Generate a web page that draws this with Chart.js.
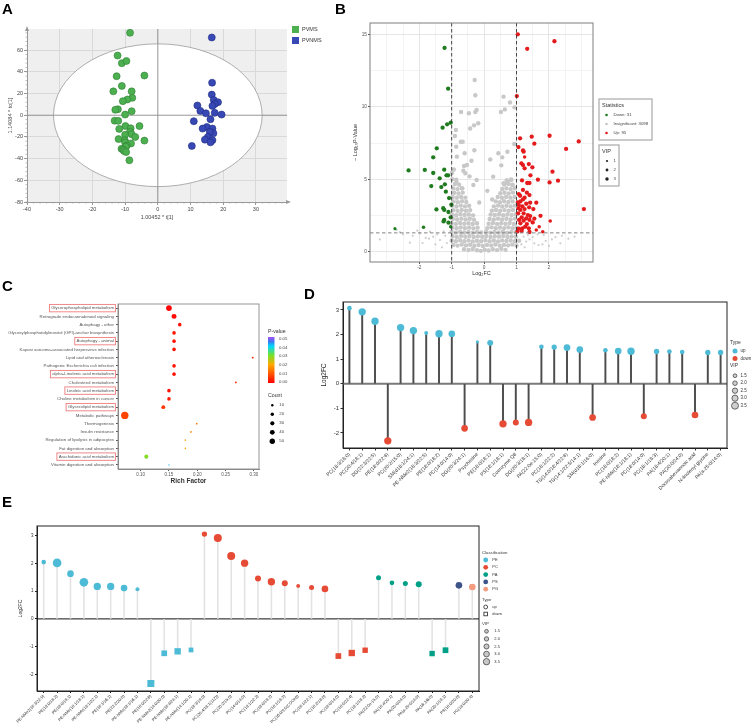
<!DOCTYPE html>
<html lang="en">
<head>
<meta charset="UTF-8">
<title>Lipidomics figure A-E</title>
<script src="https://cdn.jsdelivr.net/npm/chart.js"></script>
<style>
  body { margin: 0; background: #fff; }
  #fig { position: relative; width: 753px; height: 727px; overflow: hidden; background: #fff; }
  #fig canvas { position: absolute; }
  .tag { position: absolute; font: bold 15px 'Liberation Sans', Arial, sans-serif; color: #000; line-height: 1; }
</style>
</head>
<body>
<div id="fig">
  <canvas id="cA" width="330" height="230" style="left:0;top:0"></canvas>
  <canvas id="cB" width="423" height="290" style="left:330px;top:0"></canvas>
  <canvas id="cC" width="300" height="220" style="left:0;top:270px"></canvas>
  <canvas id="cD" width="453" height="222" style="left:300px;top:288px"></canvas>
  <canvas id="cE" width="753" height="237" style="left:0;top:490px"></canvas>
  <div class="tag" style="left:2px;top:1px">A</div>
  <div class="tag" style="left:335px;top:1px">B</div>
  <div class="tag" style="left:2px;top:278px">C</div>
  <div class="tag" style="left:304px;top:286px">D</div>
  <div class="tag" style="left:2px;top:494px">E</div>
</div>
<script>
// ---------- A: OPLS-DA score plot ----------
const aGroups = ['PVMS', 'PVNMS'];
const pvmsPts = [[-8.5,76],[-12.3,55],[-11,48],[-9.6,50],[-12.6,36],[-4.1,36.6],[-11,27],[-13.6,22],[-8,22],[-7.8,16],
  [-9.3,14.5],[-10.7,13],[-12.2,5.5],[-13,5],[-8,3.7],[-10,0.6],[-13.2,-5],[-12.1,-5.2],[-5.6,-10],[-9.9,-10],
  [-11.8,-12.6],[-8.3,-12],[-8.5,-15.4],[-10,-18],[-8,-17.5],[-6.9,-20],[-12,-22],[-10.1,-23],[-4.1,-23.4],[-10,-25],
  [-8.2,-26],[-9.5,-28],[-9.8,-29],[-11.1,-31],[-10.6,-31.7],[-10.3,-33],[-9.7,-34],[-8.7,-41.5]];
const pvnmsPts = [[16.5,71.7],[16.6,30],[16.5,19],[17.1,14],[18.4,12],[17.4,10.3],[16.7,8.6],[12.1,9],[13,4],[14.7,1.8],
  [17.4,2.2],[19.5,0.6],[16.1,-3.7],[11,-5.5],[15,-10.8],[13.7,-12.3],[16.7,-12.3],[17,-16.6],[15.9,-15.4],[15.3,-20],
  [14.4,-22.5],[16.7,-23],[16.1,-25],[10.4,-28.3]];
const aXTicks = [-40,-30,-20,-10,0,10,20,30];
const aYTicks = [-80,-60,-40,-20,0,20,40,60];
const aEllipse = [31.9, 65.8];   // Hotelling T2 radii

// ---------- B: volcano ----------
const bCounts = [31, 3098, 95];       // down, insignificant, up
const bFcCut = [-1, 1];
const bPCut = 1.3;
const bXTicks = [-3,-2.5,-2,-1.5,-1,-0.5,0,0.5,1,1.5,2,2.5,3];
const bXLabels = [-2,-1,0,1,2];
const bYTicks = [0,2.5,5,7.5,10,12.5,15];
const bYLabels = [0,5,10,15];
const downPts = [[-1.22,14.06,3],[-1.11,11.25,3],[-1.03,8.9,3],[-1.14,8.79,3],[-1.28,8.56,3],[-1.46,7.13,3],[-1.57,6.51,3],
  [-2.33,5.61,3],[-1.83,5.64,3],[-1.57,5.43,3],[-1.23,5.66,3],[-1.16,5.27,3],[-1.11,5.27,3],[-1.37,5.06,3],[-1.21,4.65,3],
  [-1.63,4.53,3],[-1.32,4.46,3],[-1.18,4.14,3],[-1.08,3.70,3],[-1.01,3.24,3],[-1.47,2.92,3],[-1.23,2.88,3],[-1.10,2.74,3],
  [-1.03,2.37,3],[-1.23,2.19,3],[-1.25,2.09,3],[-1.10,2.0,3],[-1.03,1.73,2],[-2.75,1.59,1.5],[-1.87,1.68,2],[-1.26,3.0,3]];
const upPts = [[1.04,15.0,3],[2.17,14.52,3],[1.33,14.0,3],[1.01,10.74,3],[2.02,8.0,3],[1.47,7.94,3],[1.11,7.82,3],
  [2.92,7.61,3],[1.55,7.45,3],[1.06,7.22,3],[2.53,7.09,3],[1.20,6.99,3],[1.22,6.9,3],[1.25,6.53,2],[1.15,6.1,3],
  [1.38,6.05,3],[1.20,5.98,3],[1.25,5.75,3],[1.49,5.82,3],[2.11,5.52,3],[1.43,5.27,3],[1.17,4.92,3],[1.66,4.97,3],
  [2.28,4.9,3],[2.02,4.78,3],[1.33,4.74,3],[1.40,4.74,3],[1.20,4.26,3],[1.07,3.98,3],[1.11,3.86,3],[1.32,4.07,3],
  [1.40,3.91,3],[1.25,3.73,3],[1.20,3.61,3],[1.12,3.47,3],[1.04,3.4,3],[1.42,3.38,3],[1.61,3.38,3],[3.08,2.94,3],
  [1.30,3.31,3],[1.07,3.22,3],[1.18,3.13,3],[1.06,2.99,3],[1.12,2.88,3],[1.25,2.94,3],[1.39,3.06,3],[1.52,2.94,3],
  [1.22,2.65,3],[1.05,2.65,3],[1.35,2.53,3],[1.42,2.46,3],[1.74,2.48,3],[1.16,2.37,3],[1.30,2.30,3],[1.55,2.28,3],
  [1.08,2.19,3],[1.22,2.14,3],[1.40,2.19,3],[2.04,2.12,2],[1.50,2.02,3],[1.12,1.96,3],[1.32,1.91,3],[1.27,1.73,3],
  [1.18,1.61,3],[1.38,1.61,3],[1.07,1.59,3],[1.70,1.73,2],[1.61,1.5,2],[1.40,1.36,3],[1.81,1.38,2],[1.16,1.43,3],[1.03,1.40,3]];
// insignificant features
const grayPts = [
  [-0.29,11.85],[-0.27,10.8],[0.6,10.7],[0.8,10.3],[0.64,9.82],[0.94,9.96],[0.52,9.64],[-0.23,9.78],[-0.27,9.64],[-0.71,9.64],
  [-0.47,9.55],[-0.18,8.86],[-0.31,8.72],[-0.87,8.4],[-0.43,8.5],[-0.9,7.98],[-0.72,7.59],[-0.66,7.59],[-0.86,7.25],[0.93,7.43],
  [-0.30,7.0],[0.72,6.9],[0.44,6.79],[0.56,6.51],[-0.6,6.79],[-0.84,6.56],[-0.39,6.28],[0.19,6.37],[-0.53,5.98],[-0.62,5.91],
  [0.53,5.96],[-0.93,5.68],[-0.64,5.59],[-0.99,5.45],[0.28,5.18],[-0.58,5.41],[-0.98,5.01],[-0.23,4.95],[-0.85,4.81],[0.72,4.78],
  [0.83,4.95],[0.6,4.72],[-0.67,4.37],[-0.33,4.6],[0.87,4.6],[-0.45,5.2],[0.1,4.2],[0.25,3.6],[-0.15,3.4],
  [-0.62,0.17],[-0.48,0.12],[-0.35,0.19],[-0.22,0.1],[-0.1,0.06],[0.02,0.14],[0.14,0.08],[0.27,0.18],[0.4,0.11],[0.53,0.2],[0.66,0.13],
  [-0.95,0.47],[-0.82,0.42],[-0.69,0.5],[-0.56,0.44],[-0.43,0.48],[-0.3,0.41],[-0.17,0.46],[-0.04,0.4],[0.09,0.47],[0.22,0.43],
  [0.35,0.5],[0.48,0.42],[0.61,0.47],[0.74,0.44],[0.87,0.49],[1.0,0.43],
  [-1.0,0.77],[-0.87,0.72],[-0.74,0.79],[-0.61,0.73],[-0.48,0.78],[-0.35,0.71],[-0.22,0.76],[-0.09,0.72],[0.04,0.79],[0.17,0.73],
  [0.3,0.77],[0.43,0.71],[0.56,0.78],[0.69,0.74],[0.82,0.77],[0.95,0.72],[1.08,0.76],
  [-0.97,1.07],[-0.84,1.02],[-0.71,1.09],[-0.58,1.03],[-0.45,1.08],[-0.32,1.01],[-0.19,1.06],[-0.06,1.03],[0.07,1.08],[0.2,1.02],
  [0.33,1.07],[0.46,1.04],[0.59,1.09],[0.72,1.02],[0.85,1.06],[0.98,1.03],
  [-1.0,1.37],[-0.87,1.32],[-0.74,1.38],[-0.61,1.33],[-0.48,1.37],[-0.35,1.31],[-0.22,1.36],[-0.09,1.33],[0.06,1.38],[0.19,1.32],
  [0.32,1.36],[0.45,1.33],[0.58,1.38],[0.71,1.31],[0.84,1.37],[0.97,1.34],
  [-0.98,1.67],[-0.85,1.62],[-0.72,1.68],[-0.59,1.63],[-0.46,1.67],[-0.33,1.61],[-0.2,1.66],[0.1,1.63],[0.23,1.68],[0.36,1.62],
  [0.49,1.67],[0.62,1.63],[0.75,1.68],[0.88,1.62],[1.0,1.66],
  [-1.0,1.97],[-0.87,1.92],[-0.74,1.98],[-0.61,1.93],[-0.48,1.97],[-0.35,1.91],[-0.22,1.96],[0.14,1.93],[0.27,1.98],[0.4,1.92],
  [0.53,1.97],[0.66,1.93],[0.79,1.98],[0.92,1.92],
  [-0.96,2.27],[-0.83,2.22],[-0.7,2.28],[-0.57,2.23],[-0.44,2.27],[-0.31,2.21],[0.17,2.26],[0.3,2.23],[0.43,2.28],[0.56,2.22],
  [0.69,2.27],[0.82,2.23],[0.95,2.28],
  [-0.99,2.57],[-0.86,2.52],[-0.73,2.58],[-0.6,2.53],[-0.47,2.57],[-0.34,2.51],[0.2,2.56],[0.33,2.53],[0.46,2.58],[0.59,2.52],
  [0.72,2.57],[0.85,2.53],[0.98,2.58],
  [-0.95,2.87],[-0.82,2.82],[-0.69,2.88],[-0.56,2.83],[-0.43,2.87],[0.24,2.83],[0.37,2.88],[0.5,2.82],[0.63,2.87],[0.76,2.83],[0.89,2.88],
  [-0.98,3.17],[-0.85,3.12],[-0.72,3.18],[-0.59,3.13],[-0.46,3.17],[0.3,3.13],[0.43,3.18],[0.56,3.12],[0.69,3.17],[0.82,3.13],[0.95,3.18],
  [-0.94,3.47],[-0.81,3.42],[-0.68,3.48],[-0.55,3.43],[0.36,3.47],[0.49,3.42],[0.62,3.48],[0.75,3.43],[0.88,3.47],
  [-0.97,3.77],[-0.84,3.72],[-0.71,3.78],[-0.58,3.73],[0.42,3.77],[0.55,3.72],[0.68,3.78],[0.81,3.73],[0.94,3.77],
  [-0.92,4.07],[-0.79,4.02],[-0.66,4.08],[0.5,4.03],[0.63,4.07],[0.76,4.02],[0.89,4.08],
  [-0.95,4.37],[-0.82,4.32],[-0.69,4.38],[0.56,4.33],[0.69,4.37],[0.82,4.32],[0.95,4.38],
  [-0.9,4.67],[-0.77,4.62],[0.62,4.63],[0.75,4.68],[0.88,4.62],
  [-0.86,4.97],[0.7,4.93],[0.84,4.98]];
const grayFaint = [[-3.22,0.85],[-2.29,0.62],[-2.7,1.5],[-2.06,1.45],[-1.67,1.38],[-1.57,1.04],[-1.36,0.8],[-1.98,1.27],
  [-2.5,1.2],[-1.8,0.95],[-1.45,1.2],[-1.2,1.1],[-1.15,0.6],[-2.6,1.35],[-2.2,1.1],[-1.9,0.6],[-1.7,0.9],[-1.5,0.5],
  [-1.3,0.3],[-1.25,1.4],[2.79,1.04],[2.35,0.58],[2.09,0.85],[1.84,1.15],[1.55,0.58],[1.68,0.46],[1.40,0.85],[1.22,1.04],
  [1.42,1.27],[1.3,0.7],[1.15,0.5],[1.9,0.75],[2.2,1.0],[1.25,0.3],[1.5,1.0],[1.65,1.2],[1.8,0.5],[2.0,0.4],[2.4,1.1],
  [2.6,0.9],[1.35,1.15]];

// ---------- C: KEGG enrichment ----------
const cPathways = ['Glycerophospholipid metabolism','Retrograde endocannabinoid signaling','Autophagy - other',
  'Glycosylphosphatidylinositol (GPI)-anchor biosynthesis','Autophagy - animal','Kaposi sarcoma-associated herpesvirus infection',
  'Lipid and atherosclerosis','Pathogenic Escherichia coli infection','alpha-Linolenic acid metabolism','Cholesterol metabolism',
  'Linoleic acid metabolism','Choline metabolism in cancer','Glycerolipid metabolism','Metabolic pathways','Thermogenesis',
  'Insulin resistance','Regulation of lipolysis in adipocytes','Fat digestion and absorption','Arachidonic acid metabolism',
  'Vitamin digestion and absorption'];
const cRich = [0.15,0.159,0.169,0.159,0.159,0.159,0.298,0.159,0.159,0.268,0.15,0.15,0.14,0.072,0.199,0.189,0.179,0.179,0.11,0.15];
const cPval = [0.0005,0.001,0.002,0.002,0.002,0.002,0.004,0.002,0.002,0.005,0.002,0.003,0.006,0.008,0.014,0.016,0.018,0.019,0.029,0.042];
const cCount = [54,43,22,22,22,22,6,22,22,6,22,22,25,95,5,5,4,4,28,3];
const cBoxed = [0,4,8,10,12,18];
const cXTicks = [0.10,0.15,0.20,0.25,0.30];
const cPLegend = [0.05,0.04,0.03,0.02,0.01,0.00];
const cCountLegend = [10,20,30,40,50];

// ---------- D: top differential metabolites ----------
const dNames = ['PC(18:3/18:0)','PC(20:4/18:1)','DG(22:3/22:5)','PE(18:0/22:6)','PC(20:2/15:0)','SM(d18:1/24:1)',
  'PE-NMe2(18:3/22:5)','PE(18:0/18:2)','PC(14:0/14:0)','DG(20:3/24:1)','Psychosine','PE(18:0/18:1)','PS(18:1/18:1)',
  'Coenzyme Q8','DG(20:3/18:1)','PA(22:0e-15:0)','PC(18:1/22:2)','TG(14:0/18:4/22:6)','TG(14:1/22:5/14:1)','SM(d18:1/16:0)',
  'Inosine','PC(18:0/18:2)','PE-NMe(18:1/18:1)','PC(18:0/14:0)','PC(18:1/18:3)','PA(18:4/20:1)','PA(20:0/24:0)',
  'Docosahexaenoic acid','N-linoleoyl glycine','PA(a-25:0/14:0)'];
const dLog2FC = [3.07,2.92,2.54,-2.32,2.28,2.16,2.06,2.03,2.03,-1.81,1.7,1.66,-1.63,-1.57,-1.57,1.5,1.49,1.47,1.39,-1.37,
  1.36,1.33,1.32,-1.32,1.31,1.31,1.29,-1.27,1.27,1.27];
const dVIP = [1.9,3.5,3.5,3.5,3.5,3.5,1.5,3.5,3.1,3.1,1.0,2.7,3.5,2.7,3.5,1.9,2.3,3.1,3.1,3.1,1.9,3.1,3.5,2.7,2.3,1.9,1.9,3.1,2.3,2.3];
const dYTicks = [-2,-1,0,1,2,3];
const vipLegend = [1.5,2.0,2.5,3.0,3.5];

// ---------- E: lipid classes ----------
const eNames = ['PE-NMe2(18:3/22:5)','PE(18:0/18:2)','PE(18:0/18:1)','PE-NMe(18:1/18:1)','PE-NMe(18:1/22:1)','PE(18:1/16:1)',
  'PE(22:2/20:0)','PE-NMe(18:1/16:1)','PE(18:0/22:6)','PE-NMe2(14:0/20:0)','PE-NMe(18:4/24:1)','PE-NMe(14:1/20:1)',
  'PC(18:3/18:0)','PC(20:4/18:1(11Z))','PC(20:2/15:0)','PC(14:0/14:0)','PC(18:1/22:2)','PC(18:0/18:2)','PC(18:1/18:3)',
  'PC(16:0/9:0(COOH))','PC(18:1/22:1)','PC(18:2/18:0)','PC(18:0/14:0)','PC(18:0/22:4)','PC(18:1/18:2)',
  'PA(22:0e-15:0)','PA(18:4/20:1)','PA(20:0/24:0)','PA(a-25:0/14:0)','PA(16:3/6:0)','PA(20:1/18:1)','PS(18:0/20:0)','PG(18:0/20:4)'];
const eLog2FC = [2.05,2.02,1.63,1.32,1.17,1.17,1.11,1.07,-2.33,-1.24,-1.17,-1.12,3.06,2.92,2.27,2.01,1.46,1.34,1.29,1.19,
  1.13,1.08,-1.34,-1.23,-1.13,1.48,1.30,1.28,1.25,-1.25,-1.13,1.21,1.15];
const eClass = ['PE','PE','PE','PE','PE','PE','PE','PE','PE','PE','PE','PE','PC','PC','PC','PC','PC','PC','PC','PC','PC',
  'PC','PC','PC','PC','PA','PA','PA','PA','PA','PA','PS','PG'];
const eVIP = [1.5,3.9,2.7,3.9,3.1,3.1,2.7,1.1,3.1,2.3,2.7,1.7,1.9,3.5,3.5,3.1,2.3,3.1,2.3,1.0,1.7,2.7,2.3,2.7,2.1,1.7,1.5,
  1.7,2.3,2.1,2.3,2.7,2.7];
const eClasses = ['PE','PC','PA','PS','PG'];
const eYTicks = [-2,-1,0,1,2,3];

// ---------- shared style ----------
const FF = "'Liberation Sans', Arial, sans-serif";
Chart.defaults.font.family = FF;
Chart.defaults.animation = false;
Chart.defaults.responsive = false;
Chart.defaults.plugins.legend.display = false;
Chart.defaults.plugins.tooltip.enabled = false;
const classColor = { PE: '#4DBBD5', PC: '#E64B35', PA: '#00A087', PS: '#3C5488', PG: '#F39B7F' };
const UP = '#4DBBD5', DOWN = '#E64B35';
const fixW = w => s => { s.width = w; };
const fixH = h => s => { s.height = h; };
const setTicks = arr => s => { s.ticks = arr.map(v => ({ value: v })); };
function txt(ctx, str, x, y, size, color, align, weight) {
  ctx.font = (weight || '') + ' ' + size + 'px ' + FF;
  ctx.fillStyle = color || '#333';
  ctx.textAlign = align || 'left';
  ctx.textBaseline = 'middle';
  ctx.fillText(str, x, y);
}

// ================= A =================
const aDeco = {
  id: 'aDeco',
  beforeDraw(c) {
    const { ctx, chartArea: a } = c;
    ctx.save(); ctx.fillStyle = '#efefef';
    ctx.fillRect(a.left, a.top, a.right - a.left, a.bottom - a.top); ctx.restore();
  },
  beforeDatasetsDraw(c) {
    const { ctx, chartArea: a, scales: { x, y } } = c;
    const cx = x.getPixelForValue(0), cy = y.getPixelForValue(0);
    const rx = x.getPixelForValue(aEllipse[0]) - cx, ry = cy - y.getPixelForValue(aEllipse[1]);
    ctx.save();
    ctx.beginPath(); ctx.ellipse(cx, cy, rx, ry, 0, 0, Math.PI * 2);
    ctx.fillStyle = '#fff'; ctx.fill();
    ctx.strokeStyle = '#9a9a9a'; ctx.lineWidth = 0.8; ctx.stroke();
    ctx.strokeStyle = '#8c8c8c'; ctx.lineWidth = 0.9;
    ctx.beginPath(); ctx.moveTo(a.left, cy); ctx.lineTo(a.right, cy);
    ctx.moveTo(cx, a.top); ctx.lineTo(cx, a.bottom); ctx.stroke();
    // minor ticks on both axes
    ctx.strokeStyle = '#999'; ctx.lineWidth = 0.6; ctx.beginPath();
    for (let v = -40; v <= 38; v += 2) { const p = x.getPixelForValue(v); ctx.moveTo(p, a.bottom); ctx.lineTo(p, a.bottom + 1.6); }
    for (let v = -80; v <= 78; v += 4) { const p = y.getPixelForValue(v); ctx.moveTo(a.left, p); ctx.lineTo(a.left - 1.6, p); }
    ctx.stroke();
    // arrow heads
    ctx.fillStyle = '#999';
    ctx.beginPath(); ctx.moveTo(a.left, a.top - 3); ctx.lineTo(a.left - 2, a.top + 2); ctx.lineTo(a.left + 2, a.top + 2); ctx.fill();
    ctx.beginPath(); ctx.moveTo(a.right + 4, a.bottom); ctx.lineTo(a.right - 1, a.bottom - 2); ctx.lineTo(a.right - 1, a.bottom + 2); ctx.fill();
    ctx.restore();
  },
  afterDraw(c) {
    const ctx = c.ctx;
    ctx.save();
    [['#4cb050', '#2f7d33'], ['#3848b5', '#1f2b80']].forEach((col, i) => {
      ctx.fillStyle = col[0]; ctx.fillRect(292, 26 + i * 11, 7, 7);
      txt(ctx, aGroups[i], 302, 29.5 + i * 11, 5.5, '#333');
    });
    ctx.restore();
  }
};
new Chart(document.getElementById('cA'), {
  type: 'scatter',
  data: { datasets: [
    { data: pvmsPts.map(([x, y]) => ({ x, y })), backgroundColor: '#4cb050', borderColor: '#2f7d33', borderWidth: 0.6, pointRadius: 3.5 },
    { data: pvnmsPts.map(([x, y]) => ({ x, y })), backgroundColor: '#3848b5', borderColor: '#1f2b80', borderWidth: 0.6, pointRadius: 3.5 }
  ] },
  options: {
    layout: { padding: { left: 7, right: 43, top: 29, bottom: 8 } },
    scales: {
      x: { min: -40, max: 39.5, afterBuildTicks: setTicks(aXTicks), afterFit: fixH(20),
        grid: { color: '#d9d9d9', tickLength: 3, tickColor: '#999' }, border: { color: '#999' },
        ticks: { font: { size: 5.5 }, color: '#444', padding: 1 },
        title: { display: true, text: '1.00452 * t[1]', font: { size: 5.5 }, color: '#444', padding: { top: 0, bottom: 1 } } },
      y: { min: -80, max: 79.5, afterBuildTicks: setTicks(aYTicks), afterFit: fixW(20),
        grid: { color: '#d9d9d9', tickLength: 3, tickColor: '#999' }, border: { color: '#999' },
        ticks: { font: { size: 5.5 }, color: '#444', padding: 1 },
        title: { display: true, text: '1.14084 * to[1]', font: { size: 5.5 }, color: '#444', padding: 0 } }
    }
  },
  plugins: [aDeco]
});

// ================= B =================
const bR = v => 1 + 0.38 * v;
const bDeco = {
  id: 'bDeco',
  afterDatasetsDraw(c) {
    const { ctx, chartArea: a, scales: { x, y } } = c;
    ctx.save();
    ctx.setLineDash([3.5, 2.5]); ctx.lineWidth = 0.9;
    ctx.strokeStyle = '#333';
    bFcCut.forEach(v => { const p = x.getPixelForValue(v); ctx.beginPath(); ctx.moveTo(p, a.top); ctx.lineTo(p, a.bottom); ctx.stroke(); });
    ctx.strokeStyle = '#777';
    const py = y.getPixelForValue(bPCut);
    ctx.beginPath(); ctx.moveTo(a.left, py); ctx.lineTo(a.right, py); ctx.stroke();
    ctx.setLineDash([]);
    ctx.strokeStyle = '#7f7f7f'; ctx.lineWidth = 1;
    ctx.strokeRect(a.left, a.top, a.right - a.left, a.bottom - a.top);
    ctx.restore();
  },
  afterDraw(c) {
    const ctx = c.ctx;
    ctx.save();
    ctx.strokeStyle = '#b0b0b0'; ctx.lineWidth = 1.3;
    ctx.strokeRect(269, 99, 53, 41);
    ctx.strokeRect(269, 145, 20, 41);
    txt(ctx, 'Statistics', 272, 105.5, 5.5, '#333');
    const labs = ['Down: ' + bCounts[0], 'Insignificant: ' + bCounts[1], 'Up: ' + bCounts[2]];
    const cols = ['#1e7b1e', '#c4c4c4', '#e41a1c'];
    labs.forEach((l, i) => {
      const yy = 115 + i * 9;
      ctx.fillStyle = cols[i]; ctx.beginPath(); ctx.arc(276.5, yy, 1.3, 0, Math.PI * 2); ctx.fill();
      txt(ctx, l, 283.5, yy, 4.3, '#444');
    });
    txt(ctx, 'VIP', 272, 151, 5.5, '#333');
    [1, 2, 3].forEach((v, i) => {
      const yy = 161 + i * 9;
      ctx.fillStyle = '#222'; ctx.beginPath(); ctx.arc(277, yy, bR(v) * 0.8, 0, Math.PI * 2); ctx.fill();
      txt(ctx, String(v), 283.5, yy, 4.3, '#444');
    });
    ctx.restore();
  }
};
new Chart(document.getElementById('cB'), {
  type: 'scatter',
  data: { datasets: [
    { data: upPts.map(([x, y]) => ({ x, y })), backgroundColor: '#e41a1c', borderWidth: 0, pointRadius: upPts.map(p => bR(p[2])) },
    { data: downPts.map(([x, y]) => ({ x, y })), backgroundColor: '#1e7b1e', borderWidth: 0, pointRadius: downPts.map(p => bR(p[2])) },
    { data: grayPts.map(([x, y]) => ({ x, y })), backgroundColor: '#c8c8c8', borderWidth: 0, pointRadius: 2.2 },
    { data: grayFaint.map(([x, y]) => ({ x, y })), backgroundColor: '#cdcdcd', borderWidth: 0, pointRadius: 1.1 }
  ] },
  options: {
    layout: { padding: { left: 22, right: 160, top: 23, bottom: 12 } },
    scales: {
      x: { min: -3.52, max: 3.36, afterBuildTicks: setTicks(bXTicks), afterFit: fixH(16),
        grid: { color: ctx => bXLabels.includes(ctx.tick && ctx.tick.value) ? '#e6e6e6' : '#f3f3f3',
                tickLength: 2, tickColor: ctx => bXLabels.includes(ctx.tick && ctx.tick.value) ? '#555' : 'rgba(0,0,0,0)' },
        border: { display: false },
        ticks: { font: { size: 4.8 }, color: '#555', padding: 1, autoSkip: false, maxRotation: 0,
          callback: v => bXLabels.includes(v) ? String(v) : '' },
        title: { display: true, text: 'Log\u2082FC', font: { size: 5.5 }, color: '#333', padding: { top: 0, bottom: 1 } } },
      y: { min: -0.71, max: 15.78, afterBuildTicks: setTicks(bYTicks), afterFit: fixW(18),
        grid: { color: ctx => bYLabels.includes(ctx.tick && ctx.tick.value) ? '#e6e6e6' : '#f3f3f3',
                tickLength: 2, tickColor: ctx => bYLabels.includes(ctx.tick && ctx.tick.value) ? '#555' : 'rgba(0,0,0,0)' },
        border: { display: false },
        ticks: { font: { size: 4.8 }, color: '#555', padding: 1, autoSkip: false,
          callback: v => bYLabels.includes(v) ? String(v) : '' },
        title: { display: true, text: '\u2212 Log\u2081\u2080P-Value', font: { size: 5.5 }, color: '#333', padding: 0 } }
    }
  },
  plugins: [bDeco]
});

// ================= C =================
const pStops = [[0, [255, 0, 0]], [0.01, [255, 85, 0]], [0.02, [255, 170, 0]], [0.03, [120, 225, 40]],
  [0.04, [0, 215, 255]], [0.045, [60, 120, 240]], [0.05, [170, 80, 245]]];
function pColor(p) {
  for (let i = 1; i < pStops.length; i++) {
    if (p <= pStops[i][0]) {
      const [p0, c0] = pStops[i - 1], [p1, c1] = pStops[i];
      const t = (p - p0) / (p1 - p0);
      return 'rgb(' + c0.map((v, k) => Math.round(v + (c1[k] - v) * t)).join(',') + ')';
    }
  }
  return 'rgb(170,80,245)';
}
const cR = n => 0.38 * Math.sqrt(n);
const C_FONT = 4.35;
const cDeco = {
  id: 'cDeco',
  afterDraw(c) {
    const { ctx, chartArea: a, scales: { y } } = c;
    ctx.save();
    ctx.strokeStyle = '#8a8a8a'; ctx.lineWidth = 0.9;
    ctx.strokeRect(a.left, a.top, a.right - a.left, a.bottom - a.top);
    // red boxes round the highlighted pathways
    ctx.font = C_FONT + 'px ' + FF;
    const right = a.left - 4;
    ctx.strokeStyle = '#ef7b7d'; ctx.lineWidth = 0.9;
    cBoxed.forEach(i => {
      const py = y.getPixelForTick(i);
      const w = ctx.measureText(cPathways[i]).width;
      ctx.strokeRect(right - w - 1.8, py - 3.7, w + 3.2, 7.4);
    });
    // P-value colour bar
    txt(ctx, 'P-value', 268, 62, 5.2, '#333');
    const g = ctx.createLinearGradient(0, 113, 0, 67);
    pStops.forEach(([p, col]) => g.addColorStop(p / 0.05, 'rgb(' + col.join(',') + ')'));
    ctx.fillStyle = g; ctx.fillRect(268, 67, 6.5, 46);
    cPLegend.forEach((p, i) => txt(ctx, p.toFixed(2), 279, 69 + i * 8.66, 4.3, '#444'));
    // count legend
    txt(ctx, 'Count', 268, 126, 5.2, '#333');
    cCountLegend.forEach((n, i) => {
      const yy = 135.3 + i * 9;
      ctx.fillStyle = '#000'; ctx.beginPath(); ctx.arc(272.3, yy, cR(n), 0, Math.PI * 2); ctx.fill();
      txt(ctx, String(n), 279.3, yy, 4.3, '#444');
    });
    ctx.restore();
  }
};
new Chart(document.getElementById('cC'), {
  type: 'scatter',
  data: { datasets: [{
    data: cPathways.map((p, i) => ({ x: cRich[i], y: p })),
    backgroundColor: cPval.map(pColor), borderWidth: 0, pointRadius: cCount.map(cR), clip: false
  }] },
  options: {
    layout: { padding: { left: 0, right: 41, top: 34, bottom: 4 } },
    scales: {
      x: { min: 0.06, max: 0.309, afterBuildTicks: setTicks(cXTicks), afterFit: fixH(17),
        grid: { drawOnChartArea: false, tickLength: 2, tickColor: '#555' }, border: { color: '#8a8a8a' },
        ticks: { font: { size: 4.5 }, color: '#555', padding: 1, callback: v => v.toFixed(2) },
        title: { display: true, text: 'Rich Factor', font: { size: 6.5, weight: 'bold' }, color: '#333', padding: { top: 0, bottom: 1 } } },
      y: { type: 'category', labels: cPathways, offset: true, afterFit: fixW(118),
        grid: { drawOnChartArea: false, tickLength: 2, tickColor: '#555', offset: false }, border: { color: '#8a8a8a' },
        ticks: { font: { size: C_FONT }, color: '#555', padding: 2, autoSkip: false } }
    }
  },
  plugins: [cDeco]
});

// ================= D =================
const dR = v => 0.7 + 0.85 * v;
const dDeco = {
  id: 'dDeco',
  beforeDatasetsDraw(c) {
    const { ctx, chartArea: a, scales: { y } } = c;
    const py = y.getPixelForValue(0);
    ctx.save(); ctx.strokeStyle = '#7a7a7a'; ctx.lineWidth = 1.8;
    ctx.beginPath(); ctx.moveTo(a.left, py); ctx.lineTo(a.right, py); ctx.stroke(); ctx.restore();
  },
  afterDraw(c) {
    const { ctx, chartArea: a } = c;
    ctx.save();
    ctx.strokeStyle = '#222'; ctx.lineWidth = 1;
    ctx.strokeRect(a.left, a.top, a.right - a.left, a.bottom - a.top);
    txt(ctx, 'Type', 430, 55, 5, '#333');
    [[UP, 'up'], [DOWN, 'down']].forEach(([col, l], i) => {
      const yy = 63 + i * 7.5;
      ctx.fillStyle = col; ctx.beginPath(); ctx.arc(435, yy, 2.5, 0, Math.PI * 2); ctx.fill();
      txt(ctx, l, 440.5, yy, 4.5, '#333');
    });
    txt(ctx, 'VIP', 430, 78, 5, '#333');
    vipLegend.forEach((v, i) => {
      const yy = 87.7 + i * 7.5;
      ctx.fillStyle = '#cfcfcf'; ctx.strokeStyle = '#333'; ctx.lineWidth = 0.7;
      ctx.beginPath(); ctx.arc(435, yy, dR(v) * 0.95, 0, Math.PI * 2); ctx.fill(); ctx.stroke();
      txt(ctx, v.toFixed(1), 440.5, yy, 4.5, '#333');
    });
    ctx.restore();
  }
};
new Chart(document.getElementById('cD'), {
  type: 'bar',
  data: { labels: dNames, datasets: [
    { type: 'line', data: dLog2FC, showLine: false, pointRadius: dVIP.map(dR), pointBorderWidth: 0,
      pointBackgroundColor: dLog2FC.map(v => v > 0 ? UP : DOWN), clip: false },
    { type: 'bar', data: dLog2FC, backgroundColor: '#4d4d4d', barThickness: 1.3 }
  ] },
  options: {
    layout: { padding: { left: 20, right: 26, top: 14, bottom: 0 } },
    scales: {
      x: { offset: true, afterFit: fixH(62),
        grid: { drawOnChartArea: false, offset: false, tickLength: 2.5, tickColor: '#333' }, border: { color: '#222' },
        ticks: { autoSkip: false, minRotation: 45, maxRotation: 45, font: { size: 5 }, color: '#333', padding: 1 } },
      y: { min: -2.61, max: 3.32, afterBuildTicks: setTicks(dYTicks), afterFit: fixW(23),
        grid: { drawOnChartArea: false, tickLength: 2.5, tickColor: '#333' }, border: { color: '#222' },
        ticks: { font: { size: 6 }, color: '#333', padding: 1.5 },
        title: { display: true, text: 'Log2FC', font: { size: 6.5 }, color: '#222', padding: 0 } }
    }
  },
  plugins: [dDeco]
});

// ================= E =================
const eR = v => 1.08 + 0.835 * v;
const eDeco = {
  id: 'eDeco',
  beforeDatasetsDraw(c) {
    const { ctx, chartArea: a, scales: { y } } = c;
    const py = y.getPixelForValue(0);
    ctx.save(); ctx.strokeStyle = '#111'; ctx.lineWidth = 1;
    ctx.beginPath(); ctx.moveTo(a.left, py); ctx.lineTo(a.right, py); ctx.stroke(); ctx.restore();
  },
  afterDraw(c) {
    const { ctx, chartArea: a } = c;
    ctx.save();
    ctx.strokeStyle = '#222'; ctx.lineWidth = 1;
    ctx.strokeRect(a.left, a.top, a.right - a.left, a.bottom - a.top);
    txt(ctx, 'Classification', 482, 63.3, 4.3, '#333');
    eClasses.forEach((k, i) => {
      const yy = 70 + i * 7.3;
      ctx.fillStyle = classColor[k]; ctx.beginPath(); ctx.arc(485.7, yy, 2.4, 0, Math.PI * 2); ctx.fill();
      txt(ctx, k, 492.3, yy, 4, '#333');
    });
    txt(ctx, 'Type', 482, 109.7, 4.3, '#333');
    ctx.strokeStyle = '#222'; ctx.lineWidth = 0.8;
    ctx.beginPath(); ctx.arc(485.7, 117, 1.9, 0, Math.PI * 2); ctx.stroke();
    ctx.strokeRect(483.9, 122.2, 3.6, 3.6);
    txt(ctx, 'up', 492.3, 117, 4, '#333');
    txt(ctx, 'down', 492.3, 124, 4, '#333');
    txt(ctx, 'VIP', 482, 134, 4.3, '#333');
    vipLegend.forEach((v, i) => {
      const yy = 141.3 + i * 7.6;
      ctx.fillStyle = '#c8c8c8'; ctx.strokeStyle = '#333'; ctx.lineWidth = 0.7;
      ctx.beginPath(); ctx.arc(486.5, yy, eR(v) * 0.8, 0, Math.PI * 2); ctx.fill(); ctx.stroke();
      txt(ctx, v.toFixed(1), 494.3, yy, 4, '#333');
    });
    ctx.restore();
  }
};
new Chart(document.getElementById('cE'), {
  type: 'bar',
  data: { labels: eNames, datasets: [
    { type: 'line', data: eLog2FC, showLine: false, pointBorderWidth: 0, clip: false,
      pointRadius: eVIP.map((v, i) => eR(v) * (eLog2FC[i] < 0 ? 1.35 : 1)),
      pointStyle: eLog2FC.map(v => v < 0 ? 'rect' : 'circle'),
      pointBackgroundColor: eClass.map(k => classColor[k]) },
    { type: 'bar', data: eLog2FC, backgroundColor: '#e3e3e3', barThickness: 0.9 }
  ] },
  options: {
    layout: { padding: { left: 18, right: 274, top: 36, bottom: 0 } },
    scales: {
      x: { offset: true, afterFit: fixH(36),
        grid: { drawOnChartArea: false, offset: false, tickLength: 2, tickColor: '#222' }, border: { color: '#222' },
        ticks: { autoSkip: false, minRotation: 45, maxRotation: 45, font: { size: 4.1 }, color: '#333', padding: 1 } },
      y: { min: -2.6, max: 3.35, afterBuildTicks: setTicks(eYTicks), afterFit: fixW(19),
        grid: { drawOnChartArea: false, tickLength: 2, tickColor: '#222' }, border: { color: '#222' },
        ticks: { font: { size: 4.5 }, color: '#333', padding: 1.5 },
        title: { display: true, text: 'Log2FC', font: { size: 5 }, color: '#222', padding: 0 } }
    }
  },
  plugins: [eDeco]
});
</script>
</body>
</html>
